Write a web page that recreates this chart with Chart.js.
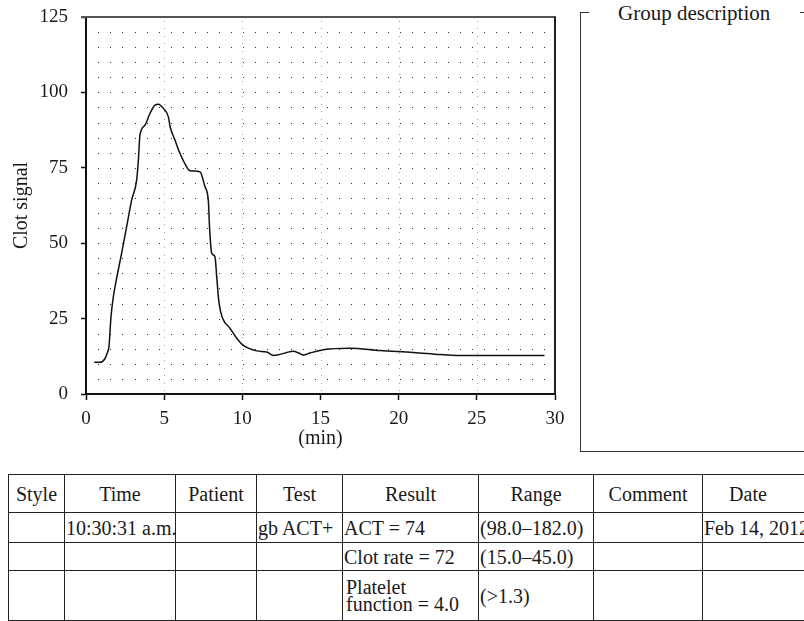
<!DOCTYPE html>
<html><head><meta charset="utf-8">
<script src="https://cdn.jsdelivr.net/npm/chart.js@4/dist/chart.umd.min.js"></script>
<style>
html,body{margin:0;padding:0;background:#fff;width:804px;height:621px;overflow:hidden;position:relative;font-family:"Liberation Serif","DejaVu Serif",serif;color:#1a1a1a}
#wrap{position:absolute;left:0;top:0;width:580px;height:460px}
#grp{position:absolute;left:580px;top:12px;width:260px;height:440px;border:1.5px solid #333;border-right:none;box-sizing:border-box}
#grp span{position:absolute;left:8px;top:-12px;background:#fff;padding:0 30px 0 29px;font-size:21px;line-height:24px;white-space:nowrap}
#tbl{position:absolute;left:8px;top:474px;border-collapse:collapse;table-layout:fixed;width:809px;font-size:20px}
#tbl td{border:1.5px solid #222;padding:0 1px;vertical-align:middle;white-space:nowrap;overflow:visible;line-height:20px}
#tbl tr.h td{text-align:center}
</style>
</head><body>
<div id="wrap"><canvas id="c" width="580" height="460"></canvas></div>
<div id="grp"><span>Group description</span></div>
<table id="tbl">
<colgroup><col style="width:56px"><col style="width:111px"><col style="width:81px"><col style="width:86px"><col style="width:136px"><col style="width:115px"><col style="width:109px"><col style="width:115px"></colgroup>
<tbody id="tb"></tbody>
</table>
<script>
// ---- chart data ----
const timeMin = [0.53, 0.9, 1.2, 1.36, 1.47, 1.6, 1.75, 1.96, 2.28, 2.6, 2.92, 3.24, 3.35, 3.45, 3.77, 4.09, 4.41, 4.63, 4.95, 5.27, 5.38, 5.69, 6.01, 6.44, 6.65, 7.29, 7.61, 7.83, 7.9, 8.04, 8.25, 8.36, 8.51, 8.74, 9.21, 9.64, 10.07, 10.92, 11.56, 12.0, 12.3, 12.8, 13.26, 13.6, 13.9, 14.33, 15.18, 16.89, 18.81, 20.94, 22.65, 23.71, 29.33];
const clotSignal = [10.5, 10.5, 11.6, 13.6, 15.8, 25.7, 32.3, 38.4, 46.7, 55.5, 64.3, 70.9, 77.6, 85.8, 89.1, 93.0, 95.8, 96.1, 94.7, 91.9, 88.6, 84.2, 79.8, 75.3, 74.0, 73.7, 68.7, 63.8, 55.5, 46.7, 45.5, 38.9, 30.1, 25.1, 21.8, 18.5, 16.1, 14.3, 13.9, 12.8, 13.0, 13.7, 14.2, 13.6, 12.9, 13.6, 14.7, 15.2, 14.4, 13.8, 13.1, 12.8, 12.8];
const xTickValues = [0, 5, 10, 15, 20, 25, 30];
const yTickValues = [0, 25, 50, 75, 100, 125];
const xTitle = '(min)';
const yTitle = 'Clot signal';
const groupTitle = 'Group description';

// ---- table data ----
const tableHeader = ['Style', 'Time', 'Patient', 'Test', 'Result', 'Range', 'Comment', 'Date'];
const tableRow1 = ['', '10:30:31 a.m.', '', 'gb ACT+', 'ACT = 74', '(98.0–182.0)', '', 'Feb 14, 2012'];
const tableRow2 = ['', '', '', '', 'Clot rate = 72', '(15.0–45.0)', '', ''];
const tableRow3 = ['', '', '', '', 'Platelet\nfunction = 4.0', '(>1.3)', '', ''];

// dotted background grid (paper pattern)
const dotRowStep = 5, dotColStart = 0.79, dotColStep = 0.771, dotColCount = 38;
const majorLineValues = [5, 10, 15, 20, 25];

const tb = document.getElementById('tb');
const rowHeights = [38, 30, 28, 50];
[tableHeader, tableRow1, tableRow2, tableRow3].forEach((r, ri) => {
  const tr = document.createElement('tr');
  if (ri === 0) tr.className = 'h';
  tr.style.height = rowHeights[ri] + 'px';
  r.forEach((t, ci) => {
    const td = document.createElement('td');
    if (t.includes('\n')) {
      td.style.whiteSpace = 'pre';
      td.style.lineHeight = '17px';
      td.style.paddingLeft = '3px';
    }
    if (ri === 0 && ci === 7) td.style.paddingRight = '25px';
    td.textContent = t;
    tr.appendChild(td);
  });
  tb.appendChild(tr);
});

const FONT = "'Liberation Serif', 'DejaVu Serif', serif";

const paperGrid = {
  id: 'paperGrid',
  beforeDatasetsDraw(chart) {
    const {ctx, scales: {x, y}} = chart;
    ctx.save();
    ctx.fillStyle = '#a0a0a0';
    for (const t of majorLineValues) {
      const px = Math.round(x.getPixelForValue(t));
      for (let v = 1.25; v < 125; v += 2.5) ctx.fillRect(px, Math.round(y.getPixelForValue(v)), 1, 1);
    }
    ctx.fillStyle = '#333';
    for (let v = dotRowStep; v < 125; v += dotRowStep) {
      const py = Math.round(y.getPixelForValue(v));
      for (let k = 0; k < dotColCount; k++) {
        ctx.fillRect(Math.round(x.getPixelForValue(dotColStart + k * dotColStep)), py, 1, 1);
      }
    }
    ctx.restore();
  },
  afterDraw(chart) {
    const {ctx, chartArea: a} = chart;
    ctx.save();
    ctx.lineWidth = 2;
    ctx.strokeStyle = '#555';
    ctx.beginPath(); ctx.moveTo(a.left - 5, a.top); ctx.lineTo(a.right + 1, a.top); ctx.stroke();
    ctx.strokeStyle = '#222';
    ctx.beginPath(); ctx.moveTo(a.right, a.top); ctx.lineTo(a.right, a.bottom); ctx.stroke();
    ctx.restore();
  }
};

new Chart(document.getElementById('c'), {
  type: 'scatter',
  data: {
    datasets: [{
      data: timeMin.map((t, i) => ({x: t, y: clotSignal[i]})),
      showLine: true,
      borderColor: '#111',
      borderWidth: 1.5,
      pointRadius: 0,
      cubicInterpolationMode: 'monotone'
    }]
  },
  options: {
    responsive: false,
    animation: false,
    devicePixelRatio: 1,
    layout: {padding: {left: 0, top: 17, right: 25, bottom: 0}},
    plugins: {legend: {display: false}, tooltip: {enabled: false}},
    scales: {
      x: {
        type: 'linear', min: 0, max: 30,
        afterBuildTicks: s => { s.ticks = xTickValues.map(v => ({value: v})); },
        afterFit: s => { s.height = 66; s.paddingLeft = 0; s.paddingRight = 0; },
        ticks: {color: '#1a1a1a', font: {family: FONT, size: 19}, padding: 8, maxRotation: 0},
        grid: {drawOnChartArea: false, drawTicks: true, tickLength: 6, tickColor: '#111', tickWidth: 1.5},
        border: {color: '#111', width: 2},
        title: {display: true, text: xTitle, color: '#1a1a1a', font: {family: FONT, size: 20}, padding: {top: 0, bottom: 9}}
      },
      y: {
        type: 'linear', min: 0, max: 125,
        afterBuildTicks: s => { s.ticks = yTickValues.map(v => ({value: v})); },
        afterFit: s => { s.width = 86; s.paddingTop = 0; s.paddingBottom = 0; },
        ticks: {color: '#1a1a1a', font: {family: FONT, size: 19}, padding: 13},
        grid: {drawOnChartArea: false, drawTicks: true, tickLength: 5, tickColor: '#111', tickWidth: 1.5},
        border: {color: '#111', width: 2},
        title: {display: true, text: yTitle, color: '#1a1a1a', font: {family: FONT, size: 20}, padding: {top: 9.5, bottom: 0}}
      }
    }
  },
  plugins: [paperGrid]
});
document.querySelector('#grp span').textContent = groupTitle;
</script>
</body></html>
